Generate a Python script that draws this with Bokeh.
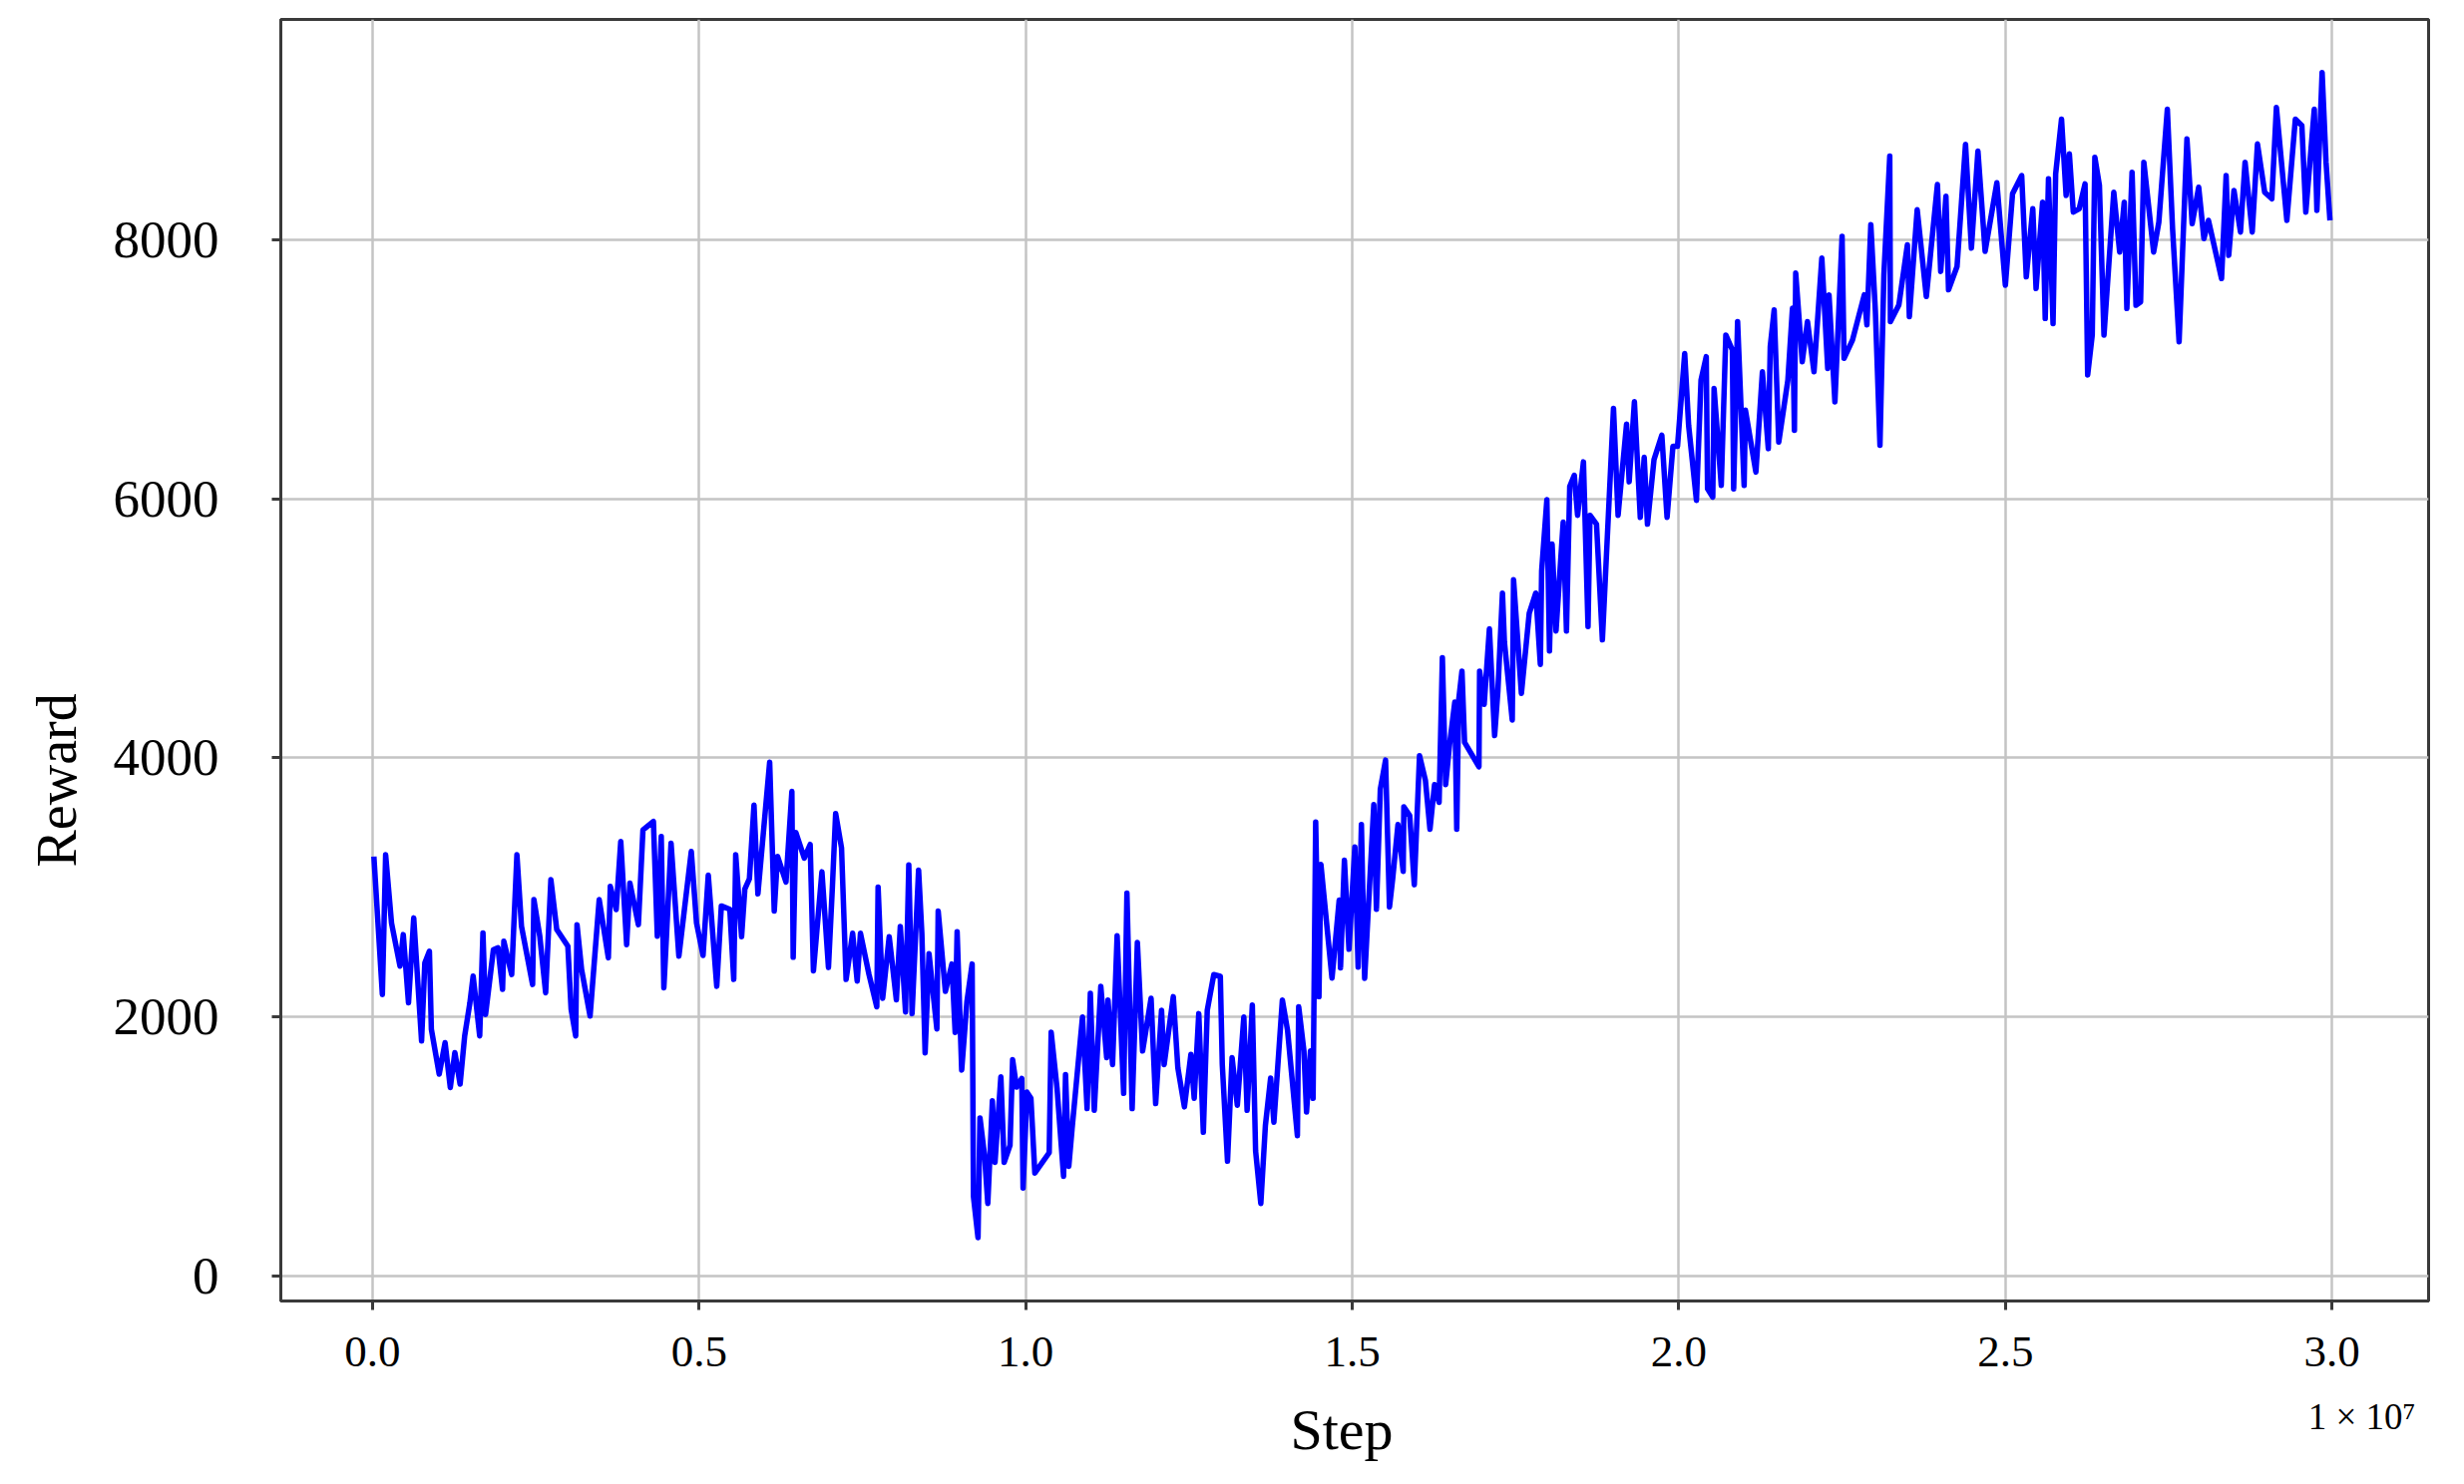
from bokeh.plotting import figure
from bokeh.models import Range1d, FixedTicker, Title
from bokeh.embed import file_html
from bokeh.resources import INLINE

# Step values in units of 1e7 (axis shows "1 x 10^7" multiplier)
step_e7 = [
    0.002, 0.015, 0.020, 0.029, 0.042, 0.047, 0.055, 0.063, 0.075, 0.080, 0.087, 0.090,
    0.102, 0.111, 0.119, 0.126, 0.134, 0.141, 0.149, 0.154, 0.164, 0.169, 0.173, 0.185,
    0.192, 0.199, 0.201, 0.213, 0.221, 0.228, 0.245, 0.247, 0.256, 0.265, 0.273, 0.282,
    0.299, 0.304, 0.311, 0.313, 0.320, 0.333, 0.347, 0.361, 0.364, 0.373, 0.380, 0.389,
    0.394, 0.407, 0.414, 0.430, 0.436, 0.442, 0.446, 0.450, 0.457, 0.469, 0.488,
    0.496, 0.506, 0.514, 0.527, 0.534, 0.547, 0.553, 0.556, 0.565, 0.570, 0.577, 0.584,
    0.590, 0.608, 0.615, 0.620, 0.633, 0.642, 0.644, 0.648, 0.661, 0.670, 0.675, 0.688,
    0.698, 0.704, 0.709, 0.718, 0.725, 0.735, 0.742, 0.747, 0.760, 0.772, 0.774, 0.781,
    0.791, 0.802, 0.808, 0.816, 0.821, 0.826, 0.836, 0.841, 0.846, 0.852, 0.864, 0.866,
    0.877, 0.887, 0.892, 0.895, 0.902, 0.910, 0.918, 0.920, 0.927, 0.930, 0.937, 0.942,
    0.949, 0.953, 0.962, 0.967, 0.976, 0.980, 0.986,
    0.994, 0.996, 1.002, 1.008, 1.014, 1.036, 1.039, 1.048, 1.058, 1.061, 1.066, 1.071,
    1.087, 1.094, 1.099, 1.105, 1.115, 1.124, 1.126, 1.133, 1.140, 1.150, 1.155, 1.163,
    1.171, 1.179, 1.192, 1.199, 1.208, 1.212, 1.226, 1.233, 1.243, 1.253, 1.258, 1.265,
    1.272, 1.278, 1.288, 1.298, 1.301, 1.309, 1.316, 1.324, 1.334, 1.339, 1.347, 1.352,
    1.360, 1.367, 1.375, 1.380, 1.393, 1.401, 1.416, 1.418, 1.426, 1.430, 1.436, 1.440,
    1.444, 1.449, 1.452, 1.456, 1.469, 1.480, 1.482,
    1.488, 1.495, 1.504, 1.509, 1.514, 1.519, 1.533, 1.537, 1.543, 1.551, 1.557, 1.562,
    1.570, 1.578, 1.579, 1.588, 1.595, 1.603, 1.612, 1.619, 1.626, 1.633, 1.638, 1.643,
    1.649, 1.657, 1.660, 1.663, 1.668, 1.672, 1.694, 1.695, 1.702, 1.710, 1.718, 1.723,
    1.730, 1.733, 1.745, 1.747, 1.759, 1.771, 1.781, 1.788, 1.790, 1.798, 1.802, 1.806,
    1.812, 1.823, 1.828, 1.833, 1.840, 1.845, 1.854, 1.861, 1.864, 1.874, 1.883, 1.900,
    1.907, 1.920, 1.924, 1.932, 1.941, 1.947, 1.952, 1.962, 1.974, 1.982, 1.991, 1.998,
    2.009, 2.015, 2.027, 2.034, 2.042, 2.044, 2.052, 2.054, 2.065, 2.072, 2.082, 2.084,
    2.090, 2.100, 2.102, 2.118, 2.128, 2.137, 2.140, 2.146, 2.153, 2.167, 2.174, 2.177,
    2.179, 2.189, 2.197, 2.207, 2.219, 2.228, 2.230, 2.239, 2.250, 2.253, 2.266, 2.284,
    2.288, 2.294, 2.301, 2.308, 2.314, 2.323, 2.324, 2.337, 2.350, 2.353, 2.365, 2.379,
    2.396, 2.401, 2.409, 2.413, 2.426, 2.439, 2.448, 2.458, 2.469, 2.487,
    2.500, 2.511, 2.525, 2.532, 2.542, 2.547, 2.557, 2.561, 2.566, 2.573, 2.577, 2.586,
    2.593, 2.598, 2.604, 2.613, 2.622, 2.626, 2.633, 2.637, 2.644, 2.651, 2.666, 2.675,
    2.682, 2.686, 2.694, 2.700, 2.707, 2.712, 2.727, 2.735, 2.748, 2.756, 2.766, 2.778,
    2.786, 2.796, 2.804, 2.811, 2.831, 2.838, 2.842, 2.850, 2.860, 2.867, 2.878, 2.886,
    2.897, 2.908, 2.915, 2.931, 2.944, 2.954, 2.960, 2.973, 2.977, 2.985, 2.991, 2.997,
]

reward = [
    3239, 2174, 3252, 2726, 2393, 2636, 2110, 2765, 1815, 2418, 2508, 1905,
    1559, 1802, 1456, 1725, 1482, 1854, 2110, 2316, 1854, 2649, 2020, 2520,
    2534, 2213, 2585, 2328, 3252, 2700, 2251, 2906, 2624, 2187, 3060, 2675,
    2547, 2059, 1854, 2713, 2367, 2008, 2906, 2457, 3008, 2829, 3355, 2559,
    3034, 2713, 3445, 3509, 2624, 3393, 2226, 2624, 3342, 2470, 3278,
    2725, 2475, 3095, 2237, 2857, 2831, 2290, 3253, 2620, 2989, 3068, 3636,
    2950, 3966, 2818, 3240, 3042, 3741, 2461, 3425, 3227, 3332, 2356, 3121,
    2382, 3002, 3570, 3306, 2290, 2646, 2277, 2646, 2330, 2079, 3002, 2145,
    2620, 2132, 2699, 2039, 3174, 2026, 3134, 2646, 1723, 2488, 1907, 2818,
    2198, 2409, 1881, 2659, 1591, 2118, 2409, 614, 297, 1221, 931, 561,
    1353, 878, 1538, 878, 1010, 1670, 1459,
    1525, 680, 1420, 1372, 796, 953, 1882, 1450, 770, 1555, 848, 1136,
    2000, 1293, 2183, 1280, 2236, 1686, 2131, 1633, 2628, 1411, 2956, 1293,
    2576, 1738, 2144, 1332, 2052, 1633, 2157, 1607, 1306, 1712, 1372, 2026,
    1110, 2052, 2327, 2314, 1633, 887, 1686, 1319, 2000, 1280, 2092, 966,
    560, 1162, 1529, 1188, 2131, 1895, 1084, 2079, 1738, 1267, 1738, 1372,
    3505, 2157, 3178, 2969, 2301, 2903, 2380,
    3210, 2523, 3313, 2385, 3485, 2299, 3639, 2832, 3760, 3983, 2849, 3072,
    3485, 3124, 3622, 3554, 3021, 4017, 3828, 3450, 3794, 3657, 4773, 3794,
    4103, 4430, 3450, 4447, 4670, 4120, 3932, 4670, 4413, 4997, 4172, 4516,
    5272, 4894, 4292, 5375, 4498, 5117, 5272, 4722, 5443, 5993, 4825, 5650,
    4980, 5821, 4980, 6096, 6182, 5873, 6285, 5014, 5873, 5804, 4911, 6698,
    5873, 6577, 6131, 6749, 5856, 6320, 5804, 6302, 6491, 5856, 6405, 6405,
    7122, 6568, 5987, 6916, 7097, 6077, 6013, 6851, 6103, 7264, 7148, 6077,
    7368, 6103, 6684, 6206, 6980, 6387, 7174, 7458, 6438, 6916, 7471, 6529,
    7742, 7058, 7368, 6980, 7858, 7006, 7574, 6748, 8026, 7084, 7226, 7574,
    7342, 8116, 7445, 6413, 7729, 8645, 7368, 7497, 7961, 7406, 8232, 7561,
    8426, 7755, 8336, 7613, 7793, 8736, 7935, 8684, 7910, 8439,
    7648, 8354, 8495, 7713, 8239, 7623, 8290, 7392, 8470, 7353, 8508, 8931,
    8341, 8662, 8213, 8239, 8431, 6956, 7264, 8636, 8418, 7264, 8367, 7905,
    8290, 7469, 8521, 7494, 7520, 8598, 7905, 8136, 9008, 8085, 7212, 8778,
    8123, 8405, 8008, 8149, 7700, 8495, 7879, 8380, 8059, 8598, 8059, 8739,
    8367, 8316, 9021, 8149, 8931, 8880, 8213, 9008, 8226, 9291, 8598, 8149,
]

x_ticks = [0.0, 0.5, 1.0, 1.5, 2.0, 2.5, 3.0]
x_tick_labels = ["0.0", "0.5", "1.0", "1.5", "2.0", "2.5", "3.0"]
y_ticks = [0, 2000, 4000, 6000, 8000]
y_tick_labels = ["0", "2000", "4000", "6000", "8000"]
x_title = "Step"
y_title = "Reward"
x_offset_text = "1 × 10⁷"

FONT = "Liberation Serif"
SPINE = "#3a3a3a"

p = figure(width=2460, height=1480, output_backend="svg", toolbar_location=None,
           x_range=Range1d(-0.1405, 3.148), y_range=Range1d(-192, 9700),
           min_border_left=280, min_border_right=26, min_border_top=19,
           min_border_bottom=176, background_fill_color="white",
           border_fill_color="white")

p.line(step_e7, reward, line_color="#0000ff", line_width=5.5, line_join="round")

# grid
p.grid.grid_line_color = "#c4c4c4"
p.grid.grid_line_width = 2.5

# frame
p.outline_line_color = SPINE
p.outline_line_width = 3
p.outline_line_alpha = 1.0

for ax in (p.xaxis[0], p.yaxis[0]):
    ax.axis_line_color = SPINE
    ax.axis_line_width = 3
    ax.major_tick_line_color = SPINE
    ax.major_tick_line_width = 3
    ax.major_tick_out = 9
    ax.major_tick_in = 0
    ax.minor_tick_line_color = None
    ax.major_label_text_font = FONT
    ax.major_label_text_color = "black"

p.xaxis.ticker = FixedTicker(ticks=x_ticks)
p.xaxis.major_label_overrides = {t: s for t, s in zip(x_ticks, x_tick_labels)}
p.xaxis.major_label_text_font_size = "45px"
p.xaxis.major_label_standoff = 27

p.yaxis.ticker = FixedTicker(ticks=y_ticks)
p.yaxis.major_label_overrides = {t: s for t, s in zip(y_ticks, y_tick_labels)}
p.yaxis.major_label_text_font_size = "53px"
p.yaxis.major_label_standoff = 53

# y title (placed below the frame's centre, as in the reference)
t_y = Title(text=y_title, align="left", offset=435, standoff=46,
            text_font=FONT, text_font_size="56px", text_font_style="normal",
            text_color="black")
p.add_layout(t_y, "left")

# offset text, right-aligned under the axis
t_off = Title(text=x_offset_text, align="right", offset=13, standoff=50,
              text_font=FONT, text_font_size="37px", text_font_style="normal",
              text_color="black")
p.add_layout(t_off, "below")

# x title (pulled up into the same band as the offset text)
t_x = Title(text=x_title, align="left", offset=1012, standoff=0,
            vertical_align="top",
            text_font=FONT, text_font_size="58px", text_font_style="normal",
            text_color="black")
try:
    t_x.standoff = -130
except Exception:
    t_x.standoff = 0
p.add_layout(t_x, "below")

open("out.html", "w").write(file_html(p, INLINE))
